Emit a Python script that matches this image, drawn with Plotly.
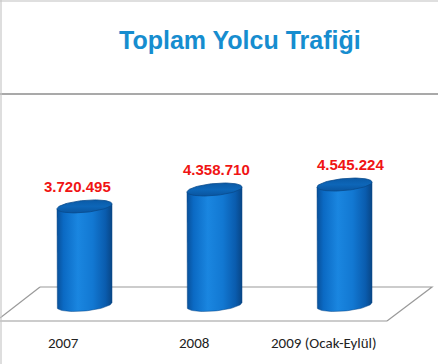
import numpy as np
import plotly.graph_objects as go

# ---- data ----
categories = ["2007", "2008", "2009 (Ocak-Eylül)"]
values = [3720495, 4358710, 4545224]
title_text = "Toplam Yolcu Trafiği"

W, H = 438, 364
# axis calibration (pixel geometry of the plot)
X_PX0, X_STEP = 84.5, 130.0          # pixel x of first category, spacing
Y_PX0, Y_PER_M = 305.0, 26.5         # pixel y of value 0, px per million
x_range = [-X_PX0 / X_STEP, (W - X_PX0) / X_STEP]
y_range = [(Y_PX0 - H) / Y_PER_M * 1e6, Y_PX0 / Y_PER_M * 1e6]

px_x = 1.0 / X_STEP          # x units per pixel
px_y = 1e6 / Y_PER_M         # y units per pixel

A_PX, B_PX, K = 27.5, 6.0, 0.09   # ellipse half-width, half-height (px), shear
label_xshift = [-7, 2, 6]          # small per-label offsets (style)

body_scale = [[0.0, "#08509a"], [0.12, "#0b6ac4"], [0.38, "#1a86e0"],
              [0.65, "#1278d2"], [0.88, "#0a5cae"], [1.0, "#084686"]]
top_scale = [[0.0, "#0a559f"], [0.5, "#0d66b8"], [1.0, "#0b5aa6"]]

fig = go.Figure()

t_front = np.linspace(np.pi, 2 * np.pi, 40)
t_full = np.linspace(0, 2 * np.pi, 80)

for i, (cat, v) in enumerate(zip(categories, values)):
    xc = i
    xs = ([xc - A_PX * px_x, xc - A_PX * px_x]
          + [xc + A_PX * np.cos(t) * px_x for t in t_front]
          + [xc + A_PX * px_x])
    ys = ([v - K * A_PX * px_y, -K * A_PX * px_y]
          + [(B_PX * np.sin(t) + K * A_PX * np.cos(t)) * px_y for t in t_front]
          + [v + K * A_PX * px_y])
    fig.add_trace(go.Scatter(
        x=xs, y=ys, mode="lines", fill="toself",
        line=dict(color="#084686", width=0.5),
        fillgradient=dict(type="horizontal", colorscale=body_scale),
        hoverinfo="skip", showlegend=False))
    # top ellipse
    ex = [xc + A_PX * np.cos(t) * px_x for t in t_full]
    ey = [v + (B_PX * np.sin(t) + K * A_PX * np.cos(t)) * px_y for t in t_full]
    fig.add_trace(go.Scatter(
        x=ex, y=ey, mode="lines", fill="toself",
        line=dict(color="#094a8c", width=0.8),
        fillgradient=dict(type="vertical", colorscale=top_scale),
        hoverinfo="skip", showlegend=False))

    label = f"{v:,}".replace(",", ".")
    fig.add_annotation(x=xc, y=v, text=label, showarrow=False,
                       yanchor="middle", yshift=20, xshift=label_xshift[i],
                       font=dict(family="Liberation Sans, Arial", size=15,
                                 color="#f01414", weight="bold"))
    fig.add_annotation(x=xc - 0.16, y=0, text=cat, showarrow=False,
                       yanchor="middle", yshift=-(343 - Y_PX0),
                       font=dict(family="Carlito, Calibri, Liberation Sans, Arial",
                                 size=15, color="#222222"))

def P(px, py):
    return px / W, 1 - py / H

shapes = []
# floor parallelogram
path = "M " + " L ".join(f"{x:.5f},{y:.5f}" for x, y in
                         [P(40, 287), P(432, 287), P(387, 321)])
shapes.append(dict(type="path", xref="paper", yref="paper", path=path,
                   line=dict(color="#9a9a9a", width=1.2), layer="below"))
shapes.append(dict(type="line", xref="paper", yref="paper",
                   x0=P(40, 287)[0], y0=P(40, 287)[1], x1=P(0, 318)[0], y1=P(0, 318)[1],
                   line=dict(color="#9a9a9a", width=1.2), layer="below"))
shapes.append(dict(type="line", xref="paper", yref="paper",
                   x0=0, y0=P(0, 321)[1], x1=P(387, 321)[0], y1=P(0, 321)[1],
                   line=dict(color="#9a9a9a", width=1.2), layer="below"))
# frame lines
shapes.append(dict(type="line", xref="paper", yref="paper",
                   x0=0, y0=P(0, 94)[1], x1=1, y1=P(0, 94)[1],
                   line=dict(color="#8c8c8c", width=1.6)))
shapes.append(dict(type="line", xref="paper", yref="paper",
                   x0=0, y0=P(0, 1)[1], x1=1, y1=P(0, 1)[1],
                   line=dict(color="#c0c0c0", width=1.2)))
shapes.append(dict(type="line", xref="paper", yref="paper",
                   x0=P(1, 0)[0], y0=0, x1=P(1, 0)[0], y1=1,
                   line=dict(color="#c8c8c8", width=1.2)))

fig.add_annotation(xref="paper", yref="paper", x=P(240, 0)[0], y=P(0, 40)[1],
                   text=title_text, showarrow=False, yanchor="middle",
                   xanchor="center",
                   font=dict(family="Liberation Sans, Arial", size=25,
                             color="#168dcf", weight="bold"))

fig.update_layout(
    width=W, height=H, autosize=False,
    margin=dict(l=0, r=0, t=0, b=0),
    paper_bgcolor="white", plot_bgcolor="white",
    shapes=shapes,
    xaxis=dict(range=x_range, visible=False, fixedrange=True),
    yaxis=dict(range=y_range, visible=False, fixedrange=True),
)

fig.write_html("out.html")
